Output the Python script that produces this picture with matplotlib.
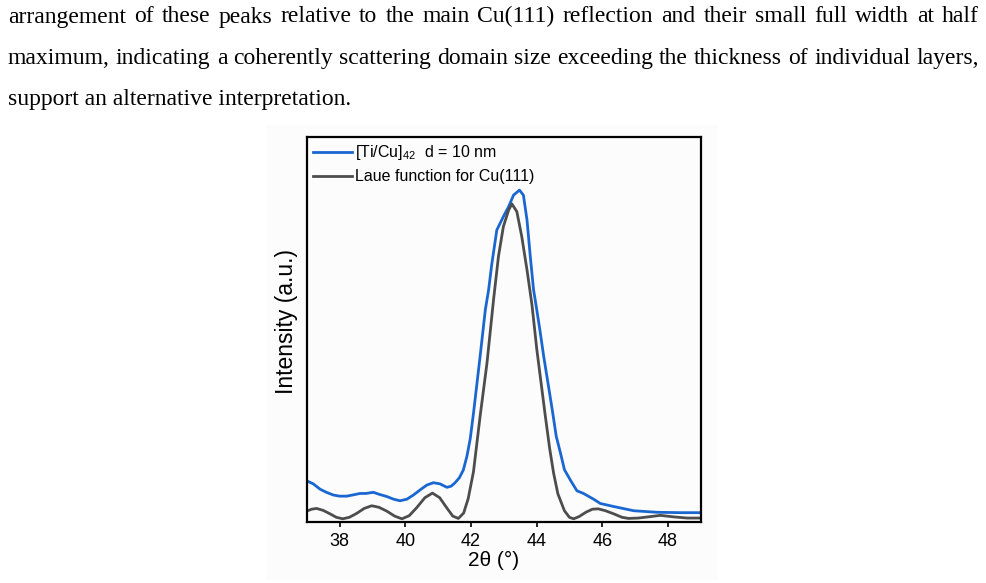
import matplotlib.pyplot as plt
from matplotlib.patches import Rectangle

plt.rcParams['mathtext.default'] = 'regular'

# --- data ---
paragraph = [
    "arrangement of these peaks relative to the main Cu(111) reflection and their small full width at half",
    "maximum, indicating a coherently scattering domain size exceeding the thickness of individual layers,",
    "support an alternative interpretation.",
]

xticks = [38, 40, 42, 44, 46, 48]

film_label = '[Ti/Cu]$_{42}$  d = 10 nm'
laue_label = 'Laue function for Cu(111)'

film_x = [37.00, 37.20, 37.41, 37.60, 37.81, 38.00, 38.22, 38.40, 38.62, 38.80,
          39.03, 39.20, 39.44, 39.65, 39.84, 40.05, 40.25, 40.45, 40.66, 40.86,
          41.06, 41.27, 41.40, 41.52, 41.65, 41.77, 41.88, 41.98, 42.08, 42.28,
          42.44, 42.54, 42.64, 42.79, 42.99, 43.15, 43.30, 43.48, 43.60, 43.71,
          43.81, 43.91, 43.96, 44.10, 44.22, 44.35, 44.48, 44.60, 44.73, 44.85,
          45.03, 45.23, 45.43, 45.74, 45.94, 46.35, 46.96, 47.67, 48.38, 49.00]
film_y = [0.106, 0.098, 0.084, 0.076, 0.069, 0.066, 0.066, 0.069, 0.073, 0.073,
          0.076, 0.071, 0.065, 0.058, 0.054, 0.058, 0.069, 0.082, 0.095, 0.101,
          0.098, 0.089, 0.092, 0.101, 0.114, 0.134, 0.170, 0.215, 0.282, 0.429,
          0.551, 0.603, 0.672, 0.759, 0.794, 0.820, 0.850, 0.863, 0.850, 0.785,
          0.690, 0.603, 0.577, 0.500, 0.429, 0.360, 0.290, 0.222, 0.178, 0.135,
          0.108, 0.080, 0.073, 0.058, 0.047, 0.039, 0.028, 0.024, 0.023, 0.023]

laue_x = [37.00, 37.15, 37.30, 37.50, 37.71, 37.90, 38.10, 38.30, 38.52, 38.75,
          38.98, 39.20, 39.44, 39.68, 39.90, 40.12, 40.35, 40.60, 40.83, 41.05,
          41.27, 41.45, 41.62, 41.78, 41.92, 42.08, 42.28, 42.49, 42.69, 42.84,
          42.99, 43.15, 43.25, 43.40, 43.55, 43.71, 43.86, 44.01, 44.14, 44.27,
          44.40, 44.52, 44.65, 44.85, 45.00, 45.13, 45.30, 45.50, 45.70, 45.88,
          46.10, 46.35, 46.60, 46.80, 47.10, 47.40, 47.77, 48.18, 48.59, 49.00]
laue_y = [0.027, 0.032, 0.034, 0.029, 0.020, 0.011, 0.007, 0.011, 0.021, 0.034,
          0.041, 0.037, 0.027, 0.014, 0.007, 0.015, 0.036, 0.062, 0.074, 0.062,
          0.035, 0.014, 0.008, 0.022, 0.060, 0.130, 0.273, 0.412, 0.577, 0.690,
          0.768, 0.811, 0.827, 0.807, 0.742, 0.655, 0.565, 0.447, 0.360, 0.273,
          0.190, 0.126, 0.072, 0.028, 0.011, 0.007, 0.013, 0.024, 0.032, 0.033,
          0.028, 0.020, 0.011, 0.008, 0.009, 0.012, 0.016, 0.012, 0.009, 0.009]

W, H = 986, 583
fig = plt.figure(figsize=(W / 100, H / 100), dpi=100)

# very light backdrop of the pasted figure
fig.patches.append(Rectangle((266 / W, 1 - 580 / H), 452 / W, 455 / H,
                             transform=fig.transFigure, facecolor='#fcfcfc',
                             edgecolor='none', zorder=-5))

# --- paragraph text, first two lines justified ---
r = fig.canvas.get_renderer()
serif = dict(family='Liberation Serif', fontsize=17, color='black', va='baseline')
baselines = [22.5, 64, 105.5]
x0, x1 = 8, 979
for i, line in enumerate(paragraph):
    yb = 1 - baselines[i] / H
    if i == len(paragraph) - 1:
        fig.text(x0 / W, yb, line, **serif)
        continue
    words = line.split()
    texts = [fig.text(0, yb, w, **serif) for w in words]
    widths = [t.get_window_extent(r).width for t in texts]
    gap = (x1 - x0 - sum(widths)) / (len(words) - 1)
    x = x0
    for t, w in zip(texts, widths):
        t.set_x(x / W)
        x += w + gap

# --- chart ---
ax = fig.add_axes([306.7 / W, 1 - 521.5 / H, 394 / W, 384 / H])
ax.set_facecolor('none')
ax.plot(film_x, film_y, color='#1a67d2', lw=2.0, label=film_label)
ax.plot(laue_x, laue_y, color='#4d4d4d', lw=2.0, label=laue_label)

ax.set_xlim(37, 49)
ax.set_ylim(0, 1)
ax.set_xticks(xticks)
ax.set_yticks([])
ax.tick_params(axis='x', direction='out', length=3.5, width=1.2, pad=4.5,
               labelsize=13)
for lab in ax.get_xticklabels():
    lab.set_family('Liberation Sans')
for s in ax.spines.values():
    s.set_linewidth(1.6)

ax.set_xlabel('2θ (°)', family='Liberation Sans', fontsize=15, va='top')
ax.xaxis.set_label_coords(0.475, -0.077)
ax.set_ylabel('Intensity (a.u.)', family='Liberation Sans', fontsize=16.5)
ax.yaxis.set_label_coords(-0.022, 0.52)

ax.legend(loc='upper left', bbox_to_anchor=(0.017, 0.985), frameon=False,
          prop={'family': 'Liberation Sans', 'size': 11.5}, handlelength=2.4,
          handletextpad=0.2, borderpad=0, borderaxespad=0, labelspacing=0.45)

fig.savefig('out.png', dpi=100)
